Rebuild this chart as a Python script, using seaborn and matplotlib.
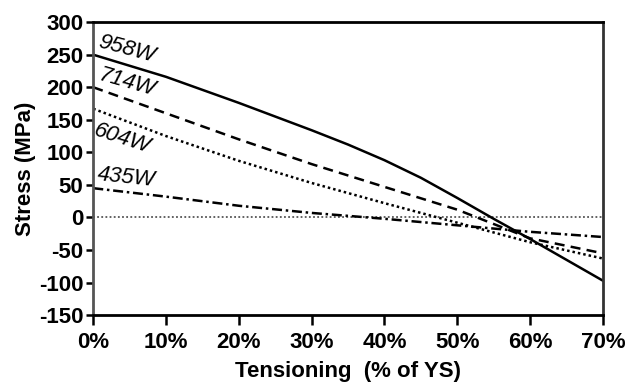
"""
plot.py — residual stress vs tensioning level
"""

import matplotlib
matplotlib.use("Agg")
import matplotlib.pyplot as plt
from matplotlib.ticker import FuncFormatter
import seaborn as sns
import pandas as pd

# ─────────────────────────────────────────────
# Data
# ─────────────────────────────────────────────
tension_958 = [0, 10, 20, 30, 35, 40, 45, 50, 55, 60, 70]
stress_958  = [250, 216, 176, 134, 112, 88, 61, 30, -2, -33, -97]

tension_714 = [0, 10, 20, 30, 40, 50, 60, 70]
stress_714  = [200, 160, 120, 82, 47, 12, -32, -55]

tension_604 = [0, 10, 20, 30, 40, 50, 60, 70]
stress_604  = [167, 125, 87, 53, 22, -8, -38, -63]

tension_435 = [0, 10, 20, 30, 40, 50, 60, 70]
stress_435  = [45, 32, 18, 7, -2, -12, -22, -30]

series_names = ["958W", "714W", "604W", "435W"]
y_ticks = [300, 250, 200, 150, 100, 50, 0, -50, -100, -150]
x_ticks = [0, 10, 20, 30, 40, 50, 60, 70]

frames = []
for name, xs, ys in zip(series_names,
                        [tension_958, tension_714, tension_604, tension_435],
                        [stress_958, stress_714, stress_604, stress_435]):
    frames.append(pd.DataFrame({"tension": xs, "stress": ys, "weld": name}))
df = pd.concat(frames, ignore_index=True)

# ─────────────────────────────────────────────
# Style
# ─────────────────────────────────────────────
sns.set_style("ticks")
plt.rcParams["font.family"] = ["Liberation Sans", "DejaVu Sans"]
plt.rcParams["axes.unicode_minus"] = False
plt.rcParams["text.color"] = "black"
plt.rcParams["axes.labelcolor"] = "black"
plt.rcParams["xtick.color"] = "black"
plt.rcParams["ytick.color"] = "black"

line_styles = {
    "958W": "-",
    "714W": (0, (4, 2.5)),
    "604W": (0, (1, 1.2)),
    "435W": (0, (4, 1.5, 1, 1.5)),
}

fig = plt.figure(figsize=(6.26, 3.82), dpi=100)
ax = fig.add_axes([0.149, 0.175, 0.814, 0.767])

for name in series_names:
    sub = df[df["weld"] == name]
    sns.lineplot(data=sub, x="tension", y="stress", ax=ax, color="black",
                 linewidth=1.8, linestyle=line_styles[name], legend=False)

ax.axhline(0, color="#555555", linestyle=(0, (1, 1.3)), linewidth=1.3, zorder=0)

# ─────────────────────────────────────────────
# Line labels
# ─────────────────────────────────────────────
label_pos = {
    "958W": (0.4, 254, -15, "bottom"),
    "714W": (0.4, 204, -16, "bottom"),
    "604W": (0.6, 150, -18, "top"),
    "435W": (0.4, 50, -6, "bottom"),
}
for name, (lx, ly, rot, va) in label_pos.items():
    ax.text(lx, ly, name, fontsize=16, fontstyle="italic", rotation=rot,
            ha="left", va=va, rotation_mode="anchor")

# ─────────────────────────────────────────────
# Axes
# ─────────────────────────────────────────────
ax.set_xlim(0, 70)
ax.set_ylim(-150, 300)
ax.set_xticks(x_ticks)
ax.set_yticks(y_ticks)
ax.xaxis.set_major_formatter(FuncFormatter(lambda v, _: f"{v:.0f}%"))
ax.tick_params(axis="both", labelsize=16, width=1.8, direction="out")
ax.tick_params(axis="x", length=7, pad=5)
ax.tick_params(axis="y", length=5, pad=2)
for lab in ax.get_xticklabels() + ax.get_yticklabels():
    lab.set_fontweight("bold")

ax.set_xlabel("Tensioning  (% of YS)", fontsize=16, fontweight="bold", labelpad=6)
ax.set_ylabel("Stress (MPa)", fontsize=16, fontweight="bold", labelpad=2)

for side in ["top", "right", "left", "bottom"]:
    ax.spines[side].set_visible(True)
    ax.spines[side].set_linewidth(2)
ax.spines["top"].set_color("black")
ax.spines["bottom"].set_color("black")
ax.spines["left"].set_color("#555555")
ax.spines["right"].set_color("#333333")

plt.savefig("out.png", dpi=100)
